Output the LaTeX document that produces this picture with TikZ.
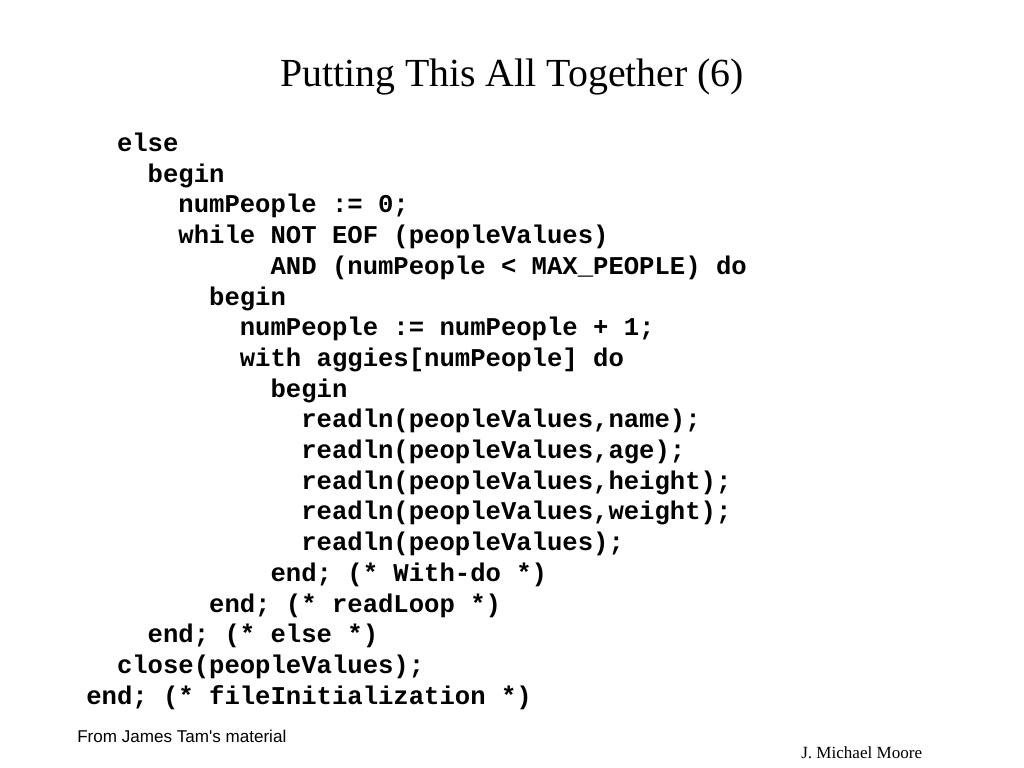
\documentclass[tikz,border=0pt]{standalone}
\usepackage{fontspec}
\setmainfont{Liberation Serif}
\newfontfamily\codefont{Liberation Mono}
\newfontfamily\notefont{Liberation Sans}

\begin{document}
\begin{tikzpicture}[x=0.703125pt, y=-0.703125pt]
    \tikzstyle{codeline}=[anchor=base west, inner sep=0pt, font=\codefont\fontsize{18}{18}\selectfont\bfseries]
    \tikzstyle{titletext}=[anchor=base, inner sep=0pt, font=\fontsize{28}{28}\selectfont]
    \tikzstyle{foottext}=[anchor=base west, inner sep=0pt]
    \def\lstep{30.7}
    \def\cstep{15.36}
    
    \useasboundingbox (0,0) rectangle (1024,768);
    
    \node[titletext] (title) at (512,87) {Putting This All Together (6)};
    
    \foreach \ind/\txt [count=\i] in {
        2/else,
        4/begin,
        6/{numPeople := 0;},
        6/{while NOT EOF (peopleValues)},
        12/{AND (numPeople < MAX\_PEOPLE) do},
        8/begin,
        10/{numPeople := numPeople + 1;},
        10/{with aggies[numPeople] do},
        12/begin,
        14/{readln(peopleValues,name);},
        14/{readln(peopleValues,age);},
        14/{readln(peopleValues,height);},
        14/{readln(peopleValues,weight);},
        14/{readln(peopleValues);},
        12/{end; (* With-do *)},
        8/{end; (* readLoop *)},
        4/{end; (* else *)},
        2/{close(peopleValues);},
        0/{end; (* fileInitialization *)}} {
        \node[codeline] (line\i) at ({86+\ind*\cstep},{151.5+(\i-1)*\lstep}) {\txt};
    }
    
    \node[foottext, font=\notefont\fontsize{12}{12}\selectfont] (source) at (77,742) {From James Tam's material};
    \node[foottext, font=\fontsize{12}{12}\selectfont] (author) at (801,758) {J. Michael Moore};
\end{tikzpicture}
\end{document}
